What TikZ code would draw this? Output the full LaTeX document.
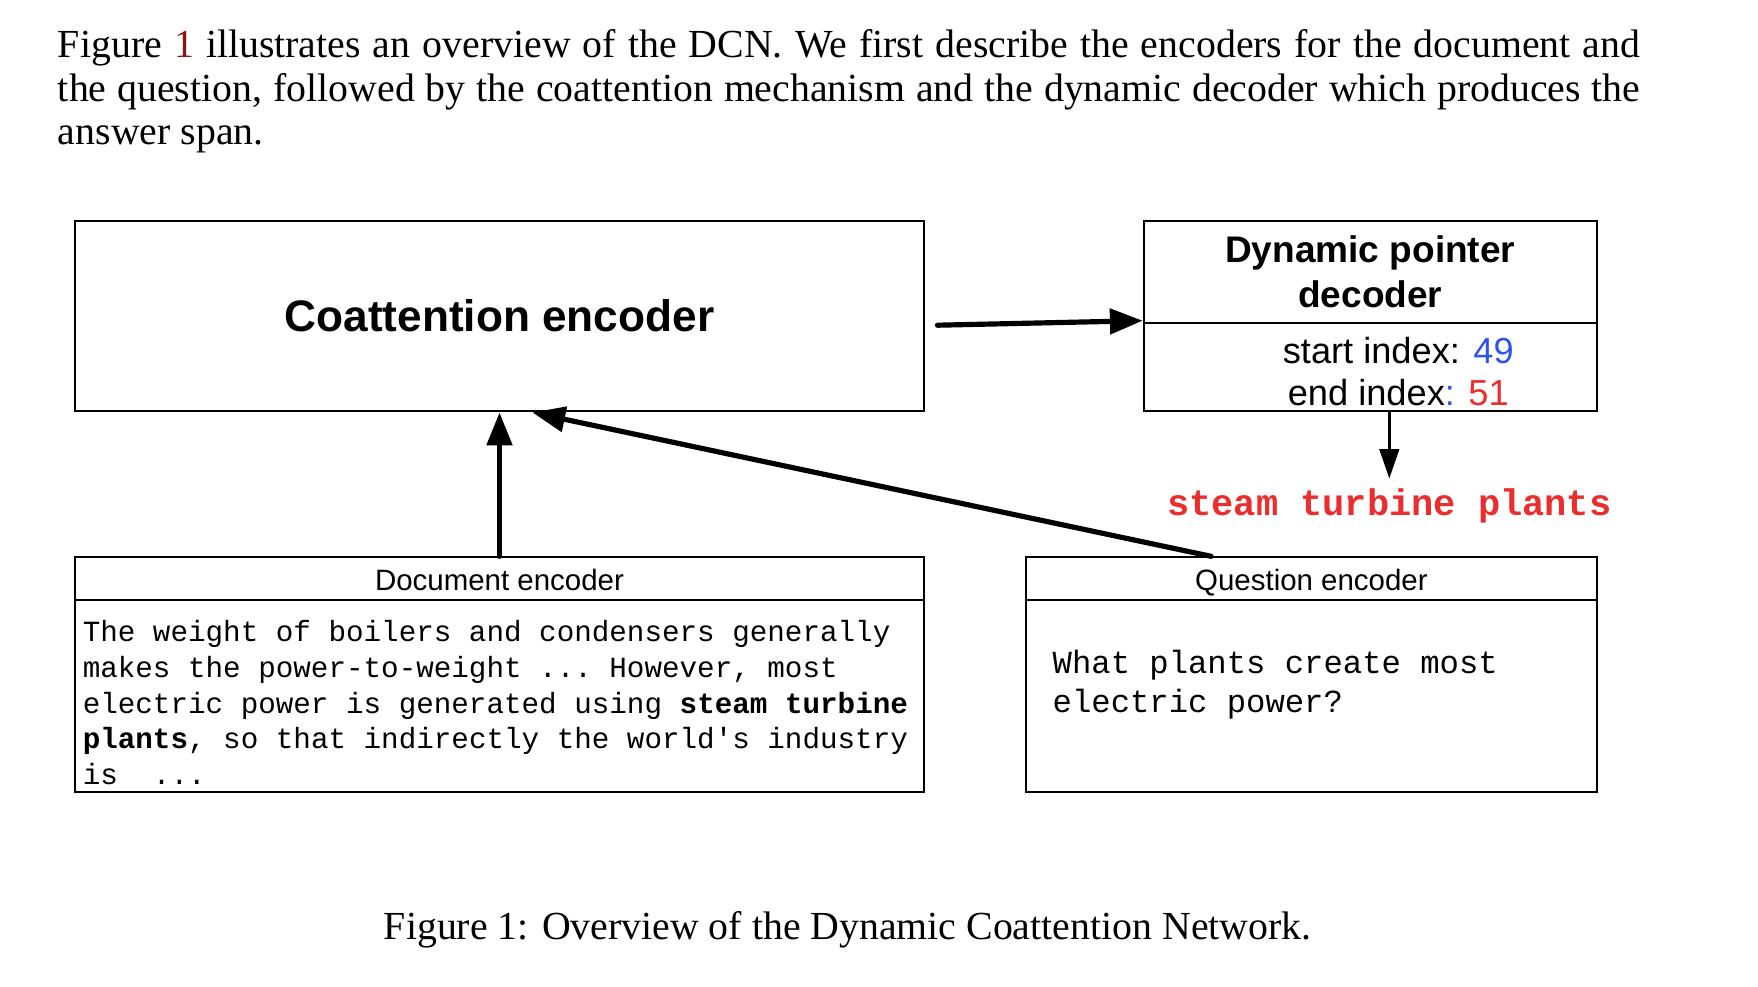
\documentclass[tikz,border=0pt]{standalone}
\usepackage{fontspec}
\setmainfont{Liberation Serif}
\setsansfont{Liberation Sans}
\setmonofont{Liberation Mono}
\usetikzlibrary{positioning}
\usetikzlibrary{arrows.meta}
\definecolor{idxblue}{RGB}{45,85,235}
\definecolor{idxred}{RGB}{235,45,45}
\definecolor{linkred}{RGB}{140,20,20}
\tikzset{
    box/.style={ % Outline of every block
        draw,
        line width=0.5pt,
        inner sep=0pt
    },
    header/.style={ % Small title on top of an encoder
        font=\sffamily\fontsize{7.4}{9}\selectfont,
        inner sep=0pt,
        anchor=base
    },
    snippet/.style={ % Monospaced input text
        align=left,
        inner sep=0pt,
        anchor=north west
    },
    bigarrow/.style={ % Thick arrows between blocks
        -{Triangle[length=2.9mm,width=2.2mm]},
        line width=1.3pt,
        line cap=round
    },
    smallarrow/.style={
        -{Triangle[length=2.6mm,width=1.7mm]},
        line width=0.9pt
    }
}

\begin{document}
\begin{tikzpicture}
    \useasboundingbox (0,-0.0435) rectangle (15.521,8.6625);

    \node[anchor=north west, inner sep=0pt, text width=13.97cm, align=justify,
          font=\fontsize{10}{11}\selectfont] (intro) at (0.505,8.41)
        {Figure \textcolor{linkred}{1} illustrates an overview of the DCN. We first describe the encoders for the document and the question, followed by the coattention mechanism and the dynamic decoder which produces the answer span.};

    % Top row
    \node[box, minimum width=7.495cm, minimum height=1.683cm,
          font=\sffamily\bfseries\fontsize{11.1}{13}\selectfont] (coatt) at (4.41,5.871) {Coattention encoder};
    \node[box, minimum width=4.0cm, minimum height=1.683cm] (decoder) at (12.098,5.871) {};
    \draw[line width=0.5pt] ([yshift=-0.911cm]decoder.north west) -- ([yshift=-0.911cm]decoder.north east);
    \node[align=center, inner sep=0pt, font=\sffamily\bfseries\fontsize{9.3}{11.2}\selectfont]
        (dectitle) at ([yshift=-0.456cm]decoder.north) {Dynamic pointer\\decoder};
    \node[align=center, inner sep=0pt, font=\sffamily\fontsize{9.1}{10.7}\selectfont]
        (decindex) at ([xshift=0.247cm,yshift=-0.49cm]decoder.center)
        {start index: \textcolor{idxblue}{49}\\end index\textcolor{idxblue}{:} \textcolor{idxred}{51}};
    \node[inner sep=0.8mm, text=idxred, font=\ttfamily\bfseries\fontsize{9.3}{11}\selectfont]
        (answer) at (12.266,4.197) {steam turbine plants};

    % Bottom row
    \node[box, minimum width=7.495cm, minimum height=2.069cm] (docenc) at (4.41,2.7075) {};
    \draw[line width=0.5pt] ([yshift=-0.386cm]docenc.north west) -- ([yshift=-0.386cm]docenc.north east);
    \node[header] (dochead) at ([yshift=-0.306cm]docenc.north) {Document encoder};
    \node[snippet, font=\ttfamily\fontsize{7.35}{8.94}\selectfont] (doctext)
        at ([xshift=0.07cm,yshift=-0.562cm]docenc.north west)
        {The weight of boilers and condensers generally\\
         makes the power-to-weight ... However, most\\
         electric power is generated using \textbf{steam turbine}\\
         \textbf{plants}, so that indirectly the world's industry\\
         is\ \ ...};

    \node[box, minimum width=5.039cm, minimum height=2.069cm] (quesenc) at (11.5785,2.7075) {};
    \draw[line width=0.5pt] ([yshift=-0.386cm]quesenc.north west) -- ([yshift=-0.386cm]quesenc.north east);
    \node[header] (queshead) at ([yshift=-0.306cm]quesenc.north) {Question encoder};
    \node[snippet, font=\ttfamily\fontsize{8.1}{9.85}\selectfont] (questext)
        at ([xshift=0.237cm,yshift=-0.82cm]quesenc.north west)
        {What plants create most\\electric power?};

    % Connections
    \draw[bigarrow] ([xshift=1.1mm,yshift=-0.8mm]coatt.east) -- ([yshift=-0.4mm]decoder.west);
    \draw[bigarrow] (docenc.north) -- (coatt.south);
    \draw[bigarrow] ([xshift=-8.86mm]quesenc.north) -- ([xshift=2.9mm]coatt.south);
    \draw[smallarrow] (decoder.south -| answer.north) -- (answer.north);

    \node[anchor=base, inner sep=0pt, font=\fontsize{10}{12}\selectfont] (caption) at (7.484,0.366)
        {Figure 1: Overview of the Dynamic Coattention Network.};
\end{tikzpicture}
\end{document}
